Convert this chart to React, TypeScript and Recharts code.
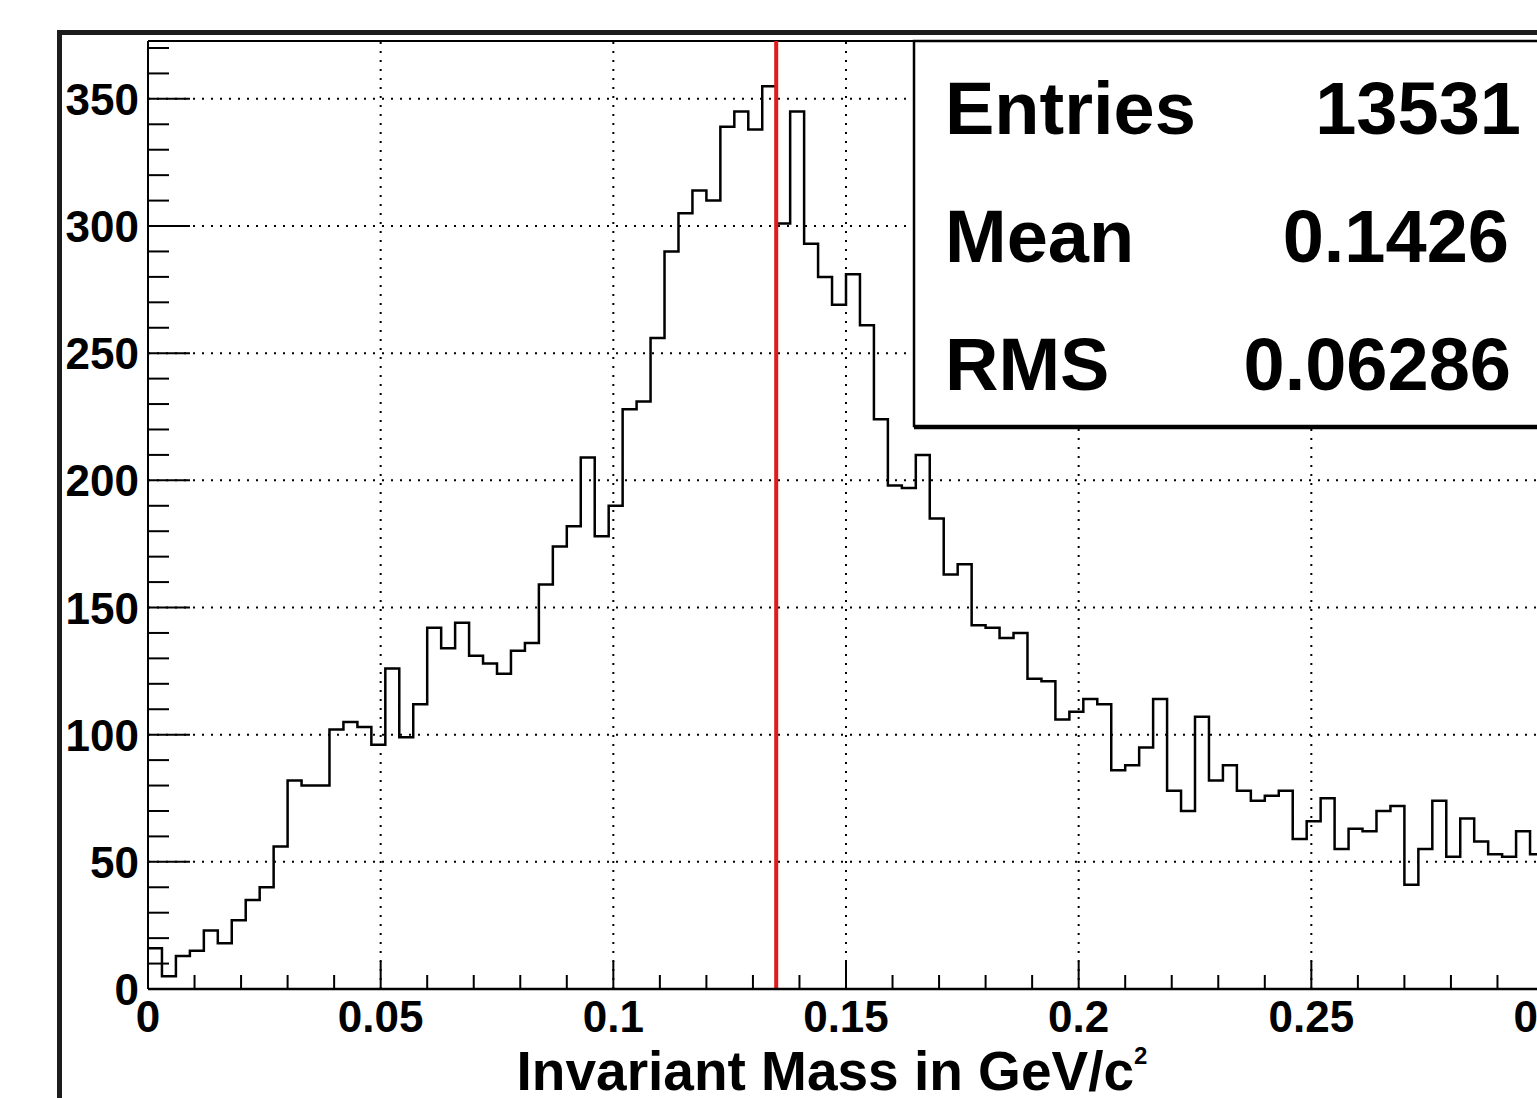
import React from 'react';
import { ComposedChart, Line, XAxis, YAxis, ReferenceLine, Label } from 'recharts';

// histogram: 100 bins of 3 MeV from 0 to 0.3 GeV/c^2
const binWidth = 0.003;
const counts = [
  16, 5, 13, 15, 23, 18, 27, 35, 40, 56,
  82, 80, 80, 102, 105, 103, 96, 126, 99, 112,
  142, 134, 144, 131, 128, 124, 133, 136, 159, 174,
  182, 209, 178, 190, 228, 231, 256, 290, 305, 314,
  310, 339, 345, 338, 355, 301, 345, 293, 280, 269,
  281, 261, 224, 198, 197, 210, 185, 163, 167, 143,
  142, 138, 140, 122, 121, 106, 109, 114, 112, 86,
  88, 95, 114, 78, 70, 107, 82, 88, 78, 74,
  76, 78, 59, 66, 75, 55, 63, 62, 70, 72,
  41, 55, 74, 52, 67, 58, 53, 52, 62, 53,
];

const xMax = 0.3;
const yMax = 372.75; // 1.05 * max bin
const xGrid = [0.05, 0.1, 0.15, 0.2, 0.25];
const yGrid = [50, 100, 150, 200, 250, 300, 350];
const xTicks = Array.from({ length: 31 }, (_, i) => i / 100);
const yTicks = Array.from({ length: 38 }, (_, i) => i * 10);
const piZeroMass = 0.135;

const statLabels = ['Entries', 'Mean', 'RMS'];
const statValues = ['13531', '0.1426', '0.06286'];

const histData = counts
  .map((c, i) => ({ x: +(i * binWidth).toFixed(3), count: c }))
  .concat([{ x: xMax, count: counts[counts.length - 1] }]);

const FONT = '"Liberation Sans", Arial, Helvetica, sans-serif';

const XTick = (props: any) => {
  const { x, y, payload } = props;
  const v = payload.value;
  const major = Math.round(v * 100) % 5 === 0;
  return (
    <g>
      <line x1={x} y1={y} x2={x} y2={y - (major ? 28 : 14)} stroke="#000" strokeWidth={2} />
      {major && (
        <text x={x} y={y + 43} textAnchor="middle" fontFamily={FONT} fontWeight="bold" fontSize={44} fill="#000">
          {String(Math.round(v * 100) / 100)}
        </text>
      )}
    </g>
  );
};

const YTick = (props: any) => {
  const { x, y, payload } = props;
  const v = payload.value;
  const major = v % 50 === 0;
  return (
    <g>
      <line x1={x} y1={y} x2={x + (major ? 42 : 21)} y2={y} stroke="#000" strokeWidth={2} />
      {major && (
        <text x={x - 9} y={y + 16} textAnchor="end" fontFamily={FONT} fontWeight="bold" fontSize={44} fill="#000">
          {v}
        </text>
      )}
    </g>
  );
};

const AxisTitle = (props: any) => {
  const vb = props.viewBox;
  return (
    <text x={vb.x + vb.width / 2 - 14} y={vb.y + 101} textAnchor="middle" fontFamily={FONT} fontWeight="bold" fontSize={55} fill="#000">
      Invariant Mass in GeV/c
      <tspan fontSize={24} dy={-26}>2</tspan>
    </text>
  );
};

const StatsBox = () => {
  const valueX = [1521, 1509, 1511];
  return (
    <svg width={1537} height={1098} style={{ position: 'absolute', left: 0, top: 0, pointerEvents: 'none' }}>
      <rect x={914} y={41} width={700} height={385} fill="#fff" stroke="#000" strokeWidth={2.5} />
      <line x1={914} y1={428} x2={1537} y2={428} stroke="#000" strokeWidth={2.5} />
      {statLabels.map((s, i) => (
        <g key={s}>
          <text x={945} y={134 + i * 128} fontFamily={FONT} fontWeight="bold" fontSize={74} fill="#000">
            {s}
          </text>
          <text x={valueX[i]} y={134 + i * 128} textAnchor="end" fontFamily={FONT} fontWeight="bold" fontSize={74} fill="#000">
            {statValues[i]}
          </text>
        </g>
      ))}
    </svg>
  );
};

export default function App() {
  return (
    <div style={{ position: 'fixed', left: 0, top: 0, width: 1537, height: 1098, overflow: 'hidden', background: '#fff' }}>
      <div
        style={{
          position: 'absolute',
          left: 57,
          top: 30,
          width: 1600,
          height: 1200,
          borderLeft: '5px solid #1c1c1c',
          borderTop: '5px solid #1c1c1c',
        }}
      />
      <div style={{ position: 'absolute', left: 0, top: 0 }}>
        <ComposedChart width={1600} height={1098} data={histData} margin={{ top: 41, right: 56, left: 0, bottom: 0 }}>
          <XAxis
            dataKey="x"
            type="number"
            domain={[0, xMax]}
            ticks={xTicks}
            interval={0}
            height={109}
            tickSize={0}
            tickMargin={0}
            tickLine={false}
            tick={<XTick />}
            axisLine={{ stroke: '#000', strokeWidth: 2.5 }}
            allowDataOverflow
          >
            <Label content={<AxisTitle />} />
          </XAxis>
          <YAxis
            type="number"
            domain={[0, yMax]}
            ticks={yTicks}
            interval={0}
            width={148}
            tickSize={0}
            tickMargin={0}
            tickLine={false}
            tick={<YTick />}
            axisLine={{ stroke: '#000', strokeWidth: 2 }}
            allowDataOverflow
          />
          {xGrid.map((g) => (
            <ReferenceLine key={'x' + g} x={g} stroke="#000" strokeWidth={2} strokeDasharray="2 7" />
          ))}
          {yGrid.map((g) => (
            <ReferenceLine key={'y' + g} y={g} stroke="#000" strokeWidth={2} strokeDasharray="2 7" />
          ))}
          <ReferenceLine y={yMax} stroke="#000" strokeWidth={2} />
          <Line
            type="stepAfter"
            dataKey="count"
            stroke="#000"
            strokeWidth={2.5}
            dot={false}
            isAnimationActive={false}
          />
          <ReferenceLine x={piZeroMass} stroke="#e31a1c" strokeWidth={4} />
        </ComposedChart>
      </div>
      <StatsBox />
    </div>
  );
}
